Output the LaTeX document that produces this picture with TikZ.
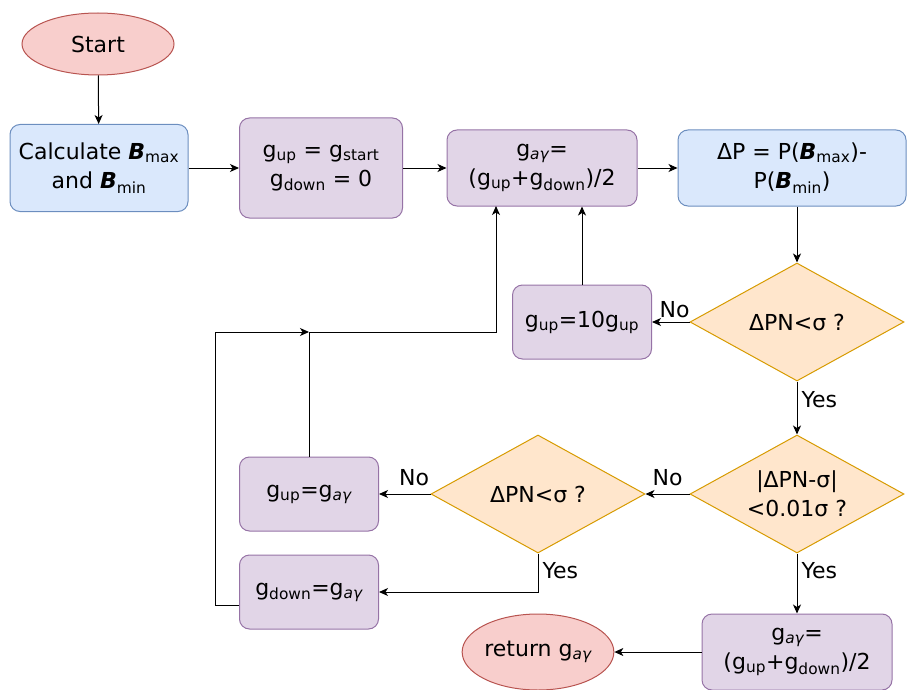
\documentclass[tikz,border=0pt]{standalone}
\usepackage{fontspec}
\setmainfont{DejaVu Sans}
\usetikzlibrary{shapes}
\usetikzlibrary{arrows}
\usetikzlibrary{arrows.meta}
\usetikzlibrary{positioning}

\definecolor{bluefill}{HTML}{DAE8FC}
\definecolor{blueline}{HTML}{6C8EBF}
\definecolor{purpfill}{HTML}{E1D5E7}
\definecolor{purpline}{HTML}{9673A6}
\definecolor{orngfill}{HTML}{FFE6CC}
\definecolor{orngline}{HTML}{D79B00}
\definecolor{redfill}{HTML}{F8CECC}
\definecolor{redline}{HTML}{B85450}

\newcommand{\sbs}[1]{\textsubscript{#1}}
\newcommand{\gav}{g\sbs{\itshape aγ}}
\newcommand{\bB}{\textbf{\textit{B}}}

\tikzset{
  every node/.style={font=\fontsize{22}{29}\selectfont},
  calcbox/.style={draw=blueline, fill=bluefill, line width=1pt, rounded corners=10pt, align=center},
  setbox/.style={draw=purpline, fill=purpfill, line width=1pt, rounded corners=10pt, align=center},
  testbox/.style={draw=orngline, fill=orngfill, line width=1pt, diamond, shape aspect=1.8,
    align=center, inner sep=-3pt},
  termbox/.style={draw=redline, fill=redfill, line width=1pt, ellipse, align=center, inner sep=0pt},
  flow/.style={-{Stealth[length=9pt, width=8pt, inset=2.5pt]}, line width=1pt},
  lbl/.style={inner sep=4pt}
}

\begin{document}
\begin{tikzpicture}[x=1pt,y=-1pt]
  \useasboundingbox (0,0) rectangle (907,690);

  % top row
  \node[termbox, minimum width=152pt, minimum height=62pt] (start) at (98,44) {Start};
  \node[calcbox, minimum width=178pt, minimum height=87pt] (calc) at (99,168)
    {Calculate \bB\sbs{max}\\and \bB\sbs{min}};
  \node[setbox, minimum width=163pt, minimum height=100pt] (init) at (321,168)
    {g\sbs{up} = g\sbs{start}\\g\sbs{down} = 0};
  \node[setbox, minimum width=190pt, minimum height=76pt] (mean) at (542,168)
    {\gav=\\(g\sbs{up}+g\sbs{down})/2};
  \node[calcbox, minimum width=228pt, minimum height=76pt] (diff) at (792,168)
    {ΔP = P(\bB\sbs{max})-\\P(\bB\sbs{min})};

  % tests
  \node[testbox, minimum width=214pt, minimum height=118pt] (less) at (797,322) {ΔPN<σ ?};
  \node[setbox, minimum width=139pt, minimum height=74pt] (grow) at (582,322)
    {g\sbs{up}=10g\sbs{up}};
  \node[testbox, minimum width=214pt, minimum height=118pt] (near) at (797,494)
    {|ΔPN-σ|\\<0.01σ ?};
  \node[testbox, minimum width=214pt, minimum height=118pt] (less2) at (538,494) {ΔPN<σ ?};
  \node[setbox, minimum width=139pt, minimum height=74pt] (lowup) at (309,494)
    {g\sbs{up}=\gav};
  \node[setbox, minimum width=139pt, minimum height=74pt] (lowdn) at (309,592)
    {g\sbs{down}=\gav};
  \node[setbox, minimum width=190pt, minimum height=76pt] (mean2) at (797,652)
    {\gav=\\(g\sbs{up}+g\sbs{down})/2};
  \node[termbox, minimum width=150pt, minimum height=76pt] (stop) at (538,652)
    {return \gav};

  \coordinate (jn) at (309,332);

  % connectors
  \draw[flow] (start) -- (calc);
  \draw[flow] (calc) -- (init);
  \draw[flow] (init) -- (mean);
  \draw[flow] (mean) -- (diff);
  \draw[flow] (diff.south -| less.north) -- (less.north);
  \draw[flow] (less.west) -- node[lbl, above, pos=0.4] {No} (grow.east);
  \draw[flow] (grow.north) -- (grow.north |- mean.south);
  \draw[flow] (less.south) -- node[lbl, right, pos=0.35] {Yes} (near.north);
  \draw[flow] (near.west) -- node[lbl, above, pos=0.5, yshift=4pt] {No} (less2.east);
  \draw[flow] (less2.west) -- node[lbl, above, pos=0.32, yshift=4pt] {No} (lowup.east);
  \draw[flow] (less2.south) |- node[lbl, right, pos=0.22] {Yes} (lowdn.east);
  \draw[flow] (near.south) -- node[lbl, right, pos=0.28] {Yes} (mean2.north);
  \draw[flow] (mean2.west) -- (stop.east);
  \draw[flow] (lowup.north) -- (jn) -| (496,206);
  \draw[flow] ([yshift=-13pt]lowdn.west) -| (215,332) -- (jn);
\end{tikzpicture}
\end{document}
